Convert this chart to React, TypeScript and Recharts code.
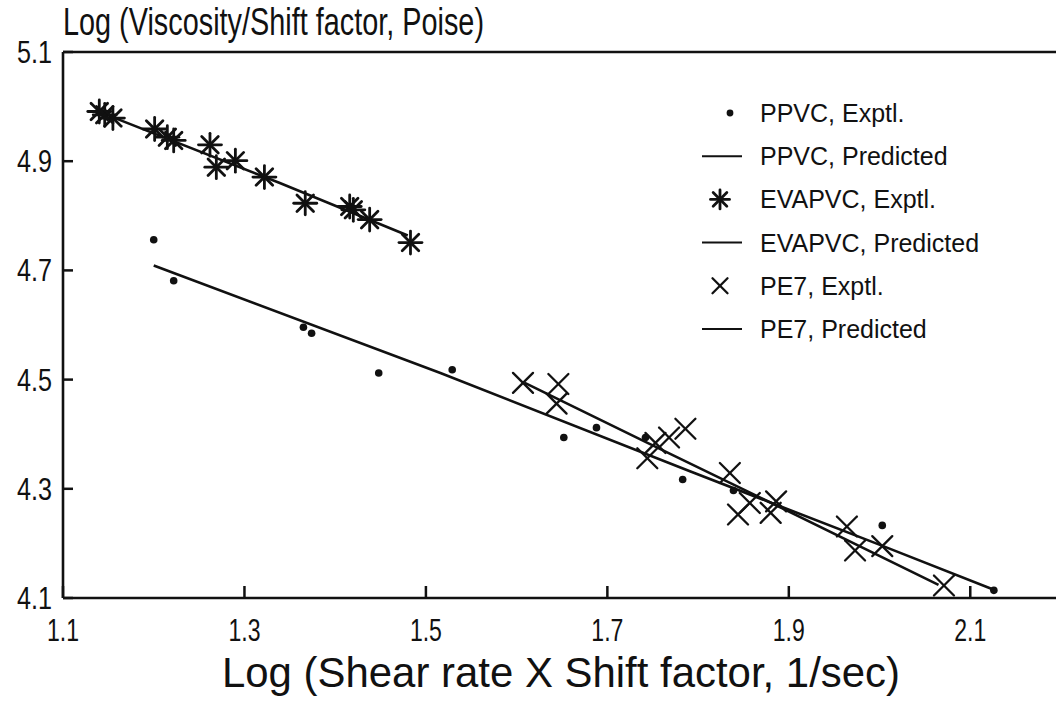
import React from 'react';
import { ComposedChart, Line, Scatter, XAxis, YAxis, ReferenceLine } from 'recharts';

// Axis ticks
const xTicks = [1.1, 1.3, 1.5, 1.7, 1.9, 2.1];
const yTicks = [4.1, 4.3, 4.5, 4.7, 4.9, 5.1];

// PPVC experimental points
const ppvcExptlX = [1.2, 1.222, 1.365, 1.374, 1.448, 1.529, 1.652, 1.688, 1.742, 1.783, 1.839, 2.003, 2.126];
const ppvcExptlY = [4.756, 4.681, 4.596, 4.585, 4.512, 4.518, 4.394, 4.412, 4.394, 4.317, 4.297, 4.233, 4.114];

// EVAPVC experimental points
const evaExptlX = [1.14, 1.146, 1.155, 1.201, 1.215, 1.222, 1.262, 1.269, 1.29, 1.322, 1.367, 1.416, 1.42, 1.438, 1.483];
const evaExptlY = [4.991, 4.985, 4.979, 4.959, 4.944, 4.938, 4.93, 4.889, 4.901, 4.871, 4.823, 4.817, 4.811, 4.793, 4.751];

// PE7 experimental points
const pe7ExptlX = [1.607, 1.646, 1.644, 1.744, 1.753, 1.768, 1.786, 1.835, 1.857, 1.844, 1.886, 1.88, 1.964, 1.973, 2.003, 2.071];
const pe7ExptlY = [4.494, 4.492, 4.456, 4.356, 4.384, 4.394, 4.41, 4.329, 4.274, 4.253, 4.277, 4.256, 4.231, 4.187, 4.195, 4.123];

// Model predictions
const ppvcPredX = [1.2, 1.516, 1.791, 2.004, 2.126];
const ppvcPredY = [4.709, 4.512, 4.332, 4.195, 4.115];
const evaPredX = [1.142, 1.339, 1.48];
const evaPredY = [4.989, 4.86, 4.764];
const pe7PredX = [1.609, 1.742, 1.887, 2.065];
const pe7PredY = [4.494, 4.386, 4.269, 4.124];

const legendLabels = [
  'PPVC, Exptl.',
  'PPVC, Predicted',
  'EVAPVC, Exptl.',
  'EVAPVC, Predicted',
  'PE7, Exptl.',
  'PE7, Predicted',
];

const zip = (xs: number[], ys: number[]) => xs.map((x, i) => ({ x, y: ys[i] }));

const ppvcExptl = zip(ppvcExptlX, ppvcExptlY);
const evaExptl = zip(evaExptlX, evaExptlY);
const pe7Exptl = zip(pe7ExptlX, pe7ExptlY);
const ppvcPred = zip(ppvcPredX, ppvcPredY);
const evaPred = zip(evaPredX, evaPredY);
const pe7Pred = zip(pe7PredX, pe7PredY);

const FONT = '"Liberation Sans", Arial, sans-serif';
const INK = '#111';

const DotMark = ({ cx, cy, r = 3.8 }: any) => <circle cx={cx} cy={cy} r={r} fill={INK} />;

const StarMark = ({ cx, cy, s = 11.5 }: any) => {
  const d = s * 0.72;
  return (
    <g stroke={INK} strokeWidth={2.8} strokeLinecap="round">
      <line x1={cx - s} y1={cy} x2={cx + s} y2={cy} />
      <line x1={cx} y1={cy - s} x2={cx} y2={cy + s} />
      <line x1={cx - d} y1={cy - d} x2={cx + d} y2={cy + d} />
      <line x1={cx - d} y1={cy + d} x2={cx + d} y2={cy - d} />
    </g>
  );
};

const CrossMark = ({ cx, cy, s = 10 }: any) => (
  <g stroke={INK} strokeWidth={2.3} strokeLinecap="round">
    <line x1={cx - s} y1={cy - s} x2={cx + s} y2={cy + s} />
    <line x1={cx - s} y1={cy + s} x2={cx + s} y2={cy - s} />
  </g>
);

const YTick = ({ x, y, payload }: any) => (
  <g>
    <line x1={x} x2={x + 10} y1={y} y2={y} stroke={INK} strokeWidth={2.5} />
    <text x={x - 11} y={y + 11} textAnchor="end" fontSize={31} fontFamily={FONT} fill={INK}
      textLength={35} lengthAdjust="spacingAndGlyphs">
      {Number(payload.value).toFixed(1)}
    </text>
  </g>
);

const XTick = ({ x, y, payload }: any) => (
  <g>
    <line x1={x} x2={x} y1={y} y2={y - 12} stroke={INK} strokeWidth={2.5} />
    <text x={x} y={y + 43} textAnchor="middle" fontSize={32} fontFamily={FONT} fill={INK}
      textLength={32} lengthAdjust="spacingAndGlyphs">
      {Number(payload.value).toFixed(1)}
    </text>
  </g>
);

const legendIcon = (i: number, cx: number, cy: number) => {
  if (i === 0) return <DotMark cx={cx + 10} cy={cy} r={3.4} />;
  if (i === 2) return <StarMark cx={cx} cy={cy} s={9.5} />;
  if (i === 4) return <CrossMark cx={cx} cy={cy} s={7.5} />;
  return <line x1={cx - 18} x2={cx + 22} y1={cy} y2={cy} stroke={INK} strokeWidth={2} />;
};

export default function App() {
  return (
    <div style={{ position: 'absolute', left: 0, top: 0, width: 1056, height: 707, overflow: 'hidden', background: '#fff' }}>
      <ComposedChart width={1061} height={707} margin={{ top: 52, right: 0, bottom: 0, left: 0 }}>
        <XAxis
          dataKey="x"
          type="number"
          domain={[1.1, 2.2]}
          ticks={xTicks}
          interval={0}
          allowDataOverflow
          height={109}
          tickSize={0}
          tickMargin={0}
          tickLine={false}
          axisLine={{ stroke: INK, strokeWidth: 2.6 }}
          tick={<XTick />}
        />
        <YAxis
          dataKey="y"
          type="number"
          domain={[4.1, 5.1]}
          ticks={yTicks}
          interval={0}
          allowDataOverflow
          width={63}
          tickSize={0}
          tickMargin={0}
          tickLine={false}
          axisLine={{ stroke: INK, strokeWidth: 2.6 }}
          tick={<YTick />}
        />
        <ReferenceLine y={5.1} stroke={INK} strokeWidth={2.6} />
        <Line data={ppvcPred} dataKey="y" stroke={INK} strokeWidth={2.6} dot={false} isAnimationActive={false} />
        <Line data={evaPred} dataKey="y" stroke={INK} strokeWidth={2.6} dot={false} isAnimationActive={false} />
        <Line data={pe7Pred} dataKey="y" stroke={INK} strokeWidth={2.6} dot={false} isAnimationActive={false} />
        <Scatter data={ppvcExptl} dataKey="y" shape={(p: any) => <DotMark cx={p.cx} cy={p.cy} />} isAnimationActive={false} />
        <Scatter data={evaExptl} dataKey="y" shape={(p: any) => <StarMark cx={p.cx} cy={p.cy} />} isAnimationActive={false} />
        <Scatter data={pe7Exptl} dataKey="y" shape={(p: any) => <CrossMark cx={p.cx} cy={p.cy} />} isAnimationActive={false} />
      </ComposedChart>
      <svg width={1056} height={707} style={{ position: 'absolute', left: 0, top: 0, pointerEvents: 'none' }}>
        <text x={63} y={35} fontSize={38} fontFamily={FONT} fill={INK} textLength={421} lengthAdjust="spacingAndGlyphs">
          Log (Viscosity/Shift factor, Poise)
        </text>
        <text x={561} y={687} textAnchor="middle" fontSize={43} fontFamily={FONT} fill={INK} textLength={678} lengthAdjust="spacingAndGlyphs">
          Log (Shear rate X Shift factor, 1/sec)
        </text>
        {legendLabels.map((label, i) => {
          const cy = 113 + i * 43.2;
          return (
            <g key={label}>
              {legendIcon(i, 720, cy)}
              <text x={760} y={cy + 9} fontSize={25} fontFamily={FONT} fill={INK}>{label}</text>
            </g>
          );
        })}
      </svg>
    </div>
  );
}
